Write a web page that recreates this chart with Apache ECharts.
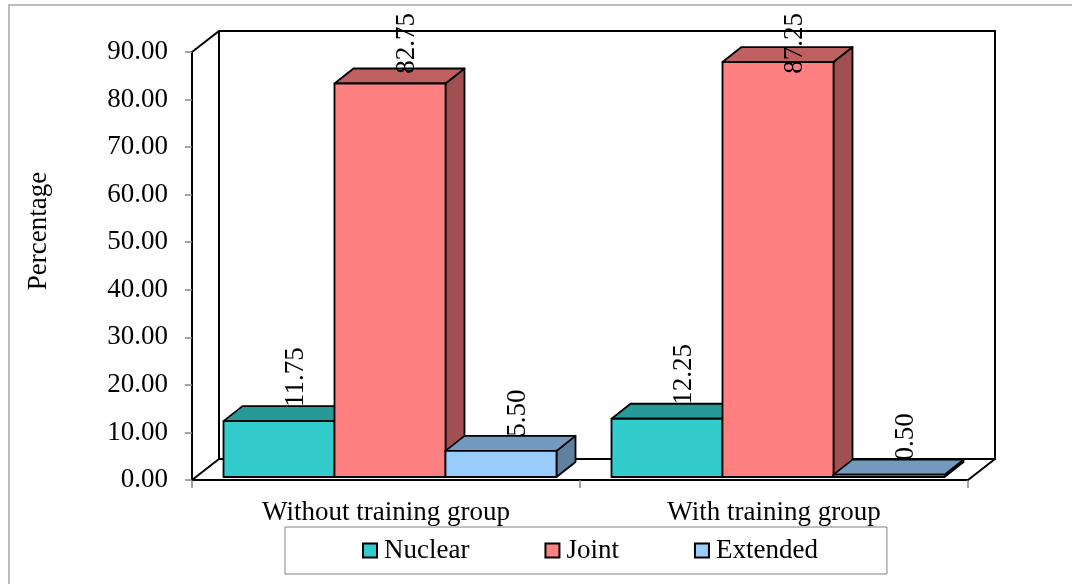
<!DOCTYPE html>
<html>
<head>
<meta charset="utf-8">
<title>Percentage by group</title>
<script src="https://cdn.jsdelivr.net/npm/echarts@6/dist/echarts.min.js"></script>
<style>
  html, body { margin: 0; padding: 0; background: #ffffff; }
  #chart { width: 1072px; height: 584px; }
</style>
</head>
<body>
<div id="chart"></div>
<script>
// Category labels and series values
const categories = ['Without training group', 'With training group'];
const seriesNames = ['Nuclear', 'Joint', 'Extended'];
const nuclearValues = [11.75, 12.25];
const jointValues = [82.75, 87.25];
const extendedValues = [5.50, 0.50];
// Value axis range and step (tick labels 0.00 ... 90.00)
const yMin = 0;
const yMax = 90;
const yStep = 10;

// Face colours per series: front, top, side
const palette = [
  { front: '#33CCCC', top: '#269999', side: '#208080' },
  { front: '#FF8080', top: '#BF6060', side: '#A05050' },
  { front: '#99CCFF', top: '#7399BF', side: '#6080A0' }
];

const FONT = '"Liberation Serif", "Times New Roman", serif';
const FONT_SIZE = 27;
// Perspective offsets (pixels) for the pseudo-3D look
const WALL_DX = 27, WALL_DY = -21;   // depth of the back wall
const FRONT_DX = 4, FRONT_DY = -3;   // bar front face set back from the front plane
const BAR_DX = 19, BAR_DY = -15;     // depth of each bar
const BAR_FRACTION = 111 / 388;      // bar width as a share of the category band
const LABEL_TOP_LIMIT = 13;          // value labels never run above this line

const valueSets = [nuclearValues, jointValues, extendedValues];

const measureCtx = document.createElement('canvas').getContext('2d');
function textWidth(text) {
  measureCtx.font = FONT_SIZE + 'px ' + FONT;
  return measureCtx.measureText(text).width;
}

function barRenderer(slot) {
  const c = palette[slot];
  return function (params, api) {
    const cat = api.value(0);
    const val = api.value(1);
    const band = api.size([1, 0])[0];
    const barW = band * BAR_FRACTION;
    const base = api.coord([cat, 0]);
    const top = api.coord([cat, val]);
    const x0 = base[0] - 1.5 * barW + slot * barW + FRONT_DX;
    const x1 = x0 + barW;
    const yb = base[1] + FRONT_DY;
    const yt = top[1] + FRONT_DY;
    const stroke = { stroke: '#000', lineWidth: 1.8, lineJoin: 'round' };
    const labelText = val.toFixed(2);
    // label sits just above the back edge of the bar top, kept inside the chart
    const labelStart = Math.max(yt + BAR_DY + 1, LABEL_TOP_LIMIT + textWidth(labelText));
    return {
      type: 'group',
      children: [
        {
          type: 'polygon',
          shape: { points: [[x1, yt], [x1 + BAR_DX, yt + BAR_DY], [x1 + BAR_DX, yb + BAR_DY], [x1, yb]] },
          style: Object.assign({ fill: c.side }, stroke)
        },
        {
          type: 'polygon',
          shape: { points: [[x0, yt], [x1, yt], [x1 + BAR_DX, yt + BAR_DY], [x0 + BAR_DX, yt + BAR_DY]] },
          style: Object.assign({ fill: c.top }, stroke)
        },
        {
          type: 'rect',
          shape: { x: x0, y: yt, width: barW, height: yb - yt },
          style: Object.assign({ fill: c.front }, stroke)
        },
        {
          type: 'text',
          x: (x0 + x1) / 2 + 17,
          y: labelStart,
          rotation: Math.PI / 2,
          z2: 10,
          style: {
            text: labelText,
            fill: '#000',
            font: FONT_SIZE + 'px ' + FONT,
            align: 'left',
            verticalAlign: 'middle'
          }
        }
      ]
    };
  };
}

// Back wall, side wall and floor edges drawn around the plotting area
function frameRenderer(params, api) {
  const g = params.coordSys;
  const x = g.x, y = g.y, w = g.width, h = g.height;
  const line = { stroke: '#000', lineWidth: 2, fill: null };
  const seg = (a, b) => ({ type: 'line', shape: { x1: a[0], y1: a[1], x2: b[0], y2: b[1] }, style: line });
  return {
    type: 'group',
    children: [
      { type: 'rect', shape: { x: x + WALL_DX, y: y + WALL_DY, width: w, height: h }, style: { stroke: '#000', lineWidth: 2, fill: '#fff' } },
      seg([x, y], [x + WALL_DX, y + WALL_DY]),
      seg([x, y + h], [x + WALL_DX, y + h + WALL_DY]),
      seg([x + w, y + h], [x + w + WALL_DX, y + h + WALL_DY])
    ]
  };
}

const series = [
  {
    type: 'custom',
    name: 'frame',
    renderItem: frameRenderer,
    data: [[0, 0]],
    clip: false,
    silent: true,
    z: 1
  }
];
seriesNames.forEach(function (name, i) {
  series.push({
    type: 'custom',
    name: name,
    renderItem: barRenderer(i),
    encode: { x: 0, y: 1 },
    data: valueSets[i].map(function (v, k) { return [k, v]; }),
    itemStyle: { color: palette[i].front, borderColor: '#000', borderWidth: 2 },
    clip: false,
    z: 2
  });
});

const chart = echarts.init(document.getElementById('chart'), null, { renderer: 'canvas' });
chart.setOption({
  backgroundColor: '#ffffff',
  animation: false,
  textStyle: { fontFamily: FONT },
  grid: { left: 192, right: 104, top: 52, bottom: 104 },
  xAxis: {
    type: 'category',
    data: categories,
    boundaryGap: true,
    axisLine: { lineStyle: { color: '#000', width: 2 } },
    axisTick: { show: true, length: 8, lineStyle: { color: '#888', width: 1.5 } },
    axisLabel: { color: '#000', fontSize: FONT_SIZE, fontFamily: FONT, margin: 19 },
    splitLine: { show: false }
  },
  yAxis: {
    type: 'value',
    min: yMin,
    max: yMax,
    interval: yStep,
    axisLine: { show: true, lineStyle: { color: '#000', width: 2 } },
    axisTick: { show: true, length: 7, lineStyle: { color: '#888', width: 1.5 } },
    axisLabel: {
      color: '#000',
      fontSize: FONT_SIZE,
      fontFamily: FONT,
      margin: 24,
      padding: [12, 0, 0, 0],
      formatter: function (v) { return v.toFixed(2); }
    },
    splitLine: { show: false }
  },
  legend: {
    data: seriesNames,
    left: 285,
    top: 527,
    orient: 'horizontal',
    icon: 'rect',
    itemWidth: 14,
    itemHeight: 14,
    itemGap: 75,
    padding: [10, 69, 10, 77],
    borderColor: '#808080',
    borderWidth: 1,
    textStyle: { color: '#000', fontSize: FONT_SIZE, fontFamily: FONT, lineHeight: 26, padding: [0, 0, 0, 2] }
  },
  graphic: [
    {
      type: 'rect',
      shape: { x: 9, y: 5, width: 1200, height: 700 },
      style: { stroke: '#A6A6A6', lineWidth: 1.5, fill: null },
      silent: true,
      z: -1
    },
    {
      type: 'text',
      x: 39,
      y: 231,
      rotation: Math.PI / 2,
      style: {
        text: 'Percentage',
        fill: '#000',
        font: FONT_SIZE + 'px ' + FONT,
        align: 'center',
        verticalAlign: 'middle'
      }
    }
  ],
  series: series
});
</script>
</body>
</html>
